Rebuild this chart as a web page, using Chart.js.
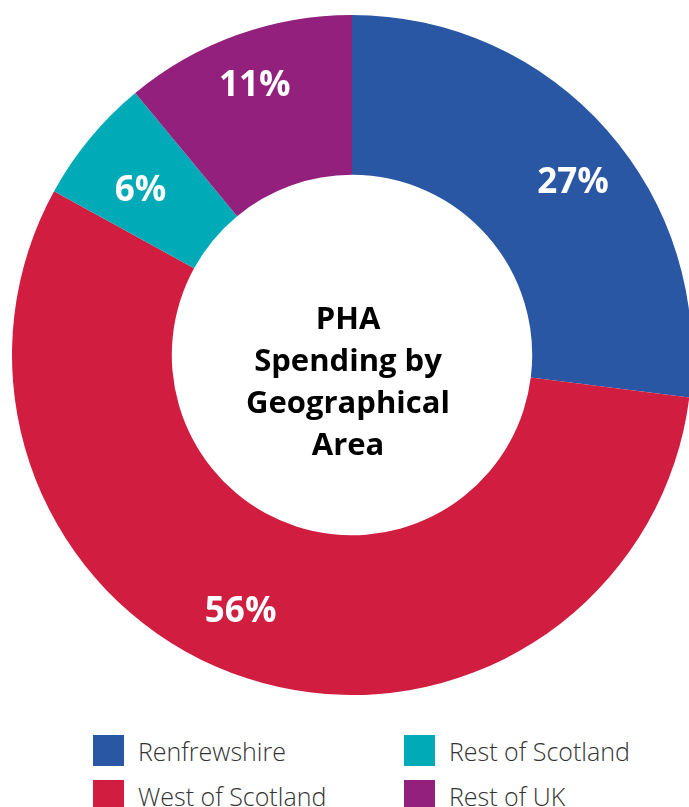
<!DOCTYPE html>
<html>
<head>
<meta charset="utf-8">
<script src="https://cdn.jsdelivr.net/npm/chart.js@4"></script>
<style>
  html, body { margin: 0; padding: 0; background: #fff; overflow: hidden; width: 689px; height: 807px; }
  #wrap { position: relative; width: 689px; height: 807px; overflow: hidden; }
  #stage { position: absolute; left: 0; top: 0; }
  #legend { position: absolute; left: 93px; top: 735px; width: 596px; display: grid;
            grid-template-columns: 311px 285px; row-gap: 14px; }
  .item { display: flex; align-items: center; height: 31px; white-space: nowrap;
          font-family: "Open Sans", sans-serif; font-weight: 300; font-size: 25px; color: #333; }
  .box { width: 31px; height: 31px; margin-right: 14px; flex: none; }
</style>
</head>
<body>
<div id="wrap">
  <canvas id="stage" width="704" height="710"></canvas>
  <div id="legend"></div>
</div>
<script>
// データ
var labels = ['Renfrewshire', 'West of Scotland', 'Rest of Scotland', 'Rest of UK'];
var values = [27, 56, 6, 11];
var valueLabels = ['27%', '56%', '6%', '11%'];
var colors = ['#2a57a4', '#d11d40', '#00aab6', '#93207c'];
var centerTitle = ['PHA', 'Spending by', 'Geographical', 'Area'];

// legend order in the picture (two columns)
var legendOrder = [0, 2, 1, 3];

// label placement tweaks: fraction across ring, angle shift (deg)
var labelRing = [0.63, 0.62, 0.55, 0.67];
var labelShift = [3.3, 5.5, -1.7, 0];

var valueLabelPlugin = {
  id: 'valueLabels',
  afterDatasetsDraw: function (chart) {
    var ctx = chart.ctx;
    var meta = chart.getDatasetMeta(0);
    ctx.save();
    ctx.fillStyle = '#fff';
    ctx.font = 'bold 35px "Open Sans", sans-serif';
    ctx.textAlign = 'center';
    ctx.textBaseline = 'middle';
    meta.data.forEach(function (arc, i) {
      var p = arc.getProps(['x', 'y', 'startAngle', 'endAngle', 'innerRadius', 'outerRadius'], true);
      var a = (p.startAngle + p.endAngle) / 2 + labelShift[i] * Math.PI / 180;
      var r = p.innerRadius + labelRing[i] * (p.outerRadius - p.innerRadius);
      ctx.fillText(valueLabels[i], p.x + r * Math.cos(a), p.y + r * Math.sin(a) + 1);
    });
    ctx.restore();
  }
};

var centerTextPlugin = {
  id: 'centerText',
  afterDraw: function (chart) {
    var ctx = chart.ctx;
    var area = chart.chartArea;
    var cx = (area.left + area.right) / 2 - 4;
    var cy = (area.top + area.bottom) / 2;
    var lh = 42;
    ctx.save();
    ctx.fillStyle = '#000';
    ctx.font = 'bold 31px "Open Sans", sans-serif';
    ctx.textAlign = 'center';
    ctx.textBaseline = 'alphabetic';
    centerTitle.forEach(function (t, i) {
      ctx.fillText(t, cx, cy - 26 + i * lh);
    });
    ctx.restore();
  }
};

new Chart(document.getElementById('stage').getContext('2d'), {
  type: 'doughnut',
  data: {
    labels: labels,
    datasets: [{
      data: values,
      backgroundColor: colors,
      borderWidth: 0
    }]
  },
  options: {
    responsive: false,
    animation: false,
    cutout: '53%',
    layout: { padding: { left: 12, right: 12, top: 12, bottom: 12 } },
    plugins: {
      legend: { display: false },
      tooltip: { enabled: false }
    }
  },
  plugins: [valueLabelPlugin, centerTextPlugin]
});

// 凡例
var legendEl = document.getElementById('legend');
legendOrder.forEach(function (i) {
  var item = document.createElement('div');
  item.className = 'item';
  var box = document.createElement('span');
  box.className = 'box';
  box.style.background = colors[i];
  item.appendChild(box);
  item.appendChild(document.createTextNode(labels[i]));
  legendEl.appendChild(item);
});
</script>
</body>
</html>
